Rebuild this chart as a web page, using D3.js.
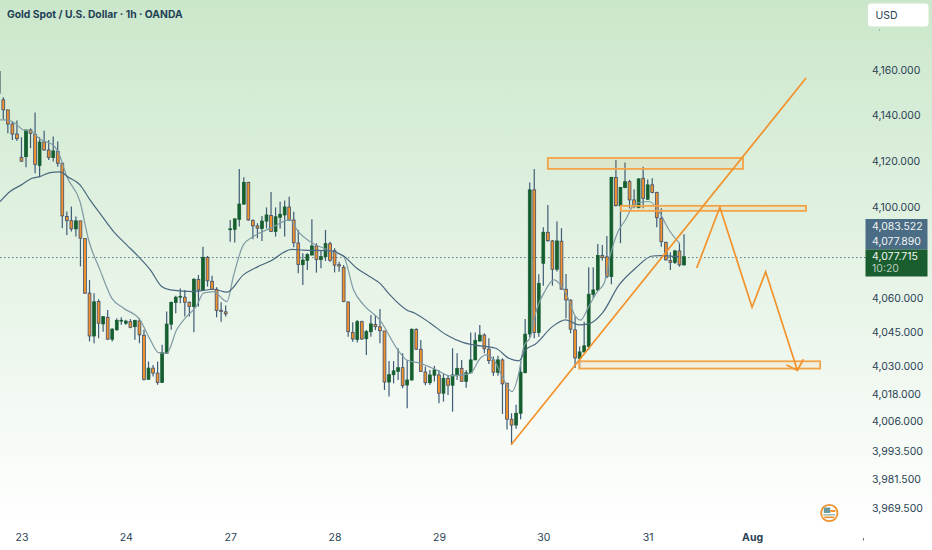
<!DOCTYPE html>
<html>
<head>
<meta charset="utf-8">
<script src="https://d3js.org/d3.v7.min.js"></script>
<style>
  html, body { margin: 0; padding: 0; background: #fff; }
  svg { display: block; }
  text { font-family: Inter, sans-serif; }
</style>
</head>
<body>
<div id="chart"></div>
<script>
var open = [
  4159.3,4146.9,4142.5,4136.3,4131.9,4121.7,4122.0,4133.7,4131.8,4118.1,
  4128.4,4124.9,4121.6,4124.3,4119.1,4095.7,4093.9,4090.3,4093.8,4086.0,
  4062.1,4043.3,4058.4,4048.6,4051.5,4041.9,4046.0,4049.9,4048.9,4049.6,
  4047.4,4049.9,4043.6,4024.3,4029.2,4027.0,4022.9,4035.7,4048.5,4058.0,
  4060.4,4060.3,4058.1,4056.2,4068.1,4063.5,4077.8,4067.3,4063.8,4054.6,
  4053.9,4090.0,4090.1,4094.5,4101.2,4110.7,4093.9,4091.6,4090.5,4093.7,
  4096.2,4089.2,4095.4,4096.4,4099.9,4094.2,4084.1,4074.6,4076.5,4078.8,
  4082.8,4076.9,4078.1,4083.8,4080.7,4074.6,4073.4,4058.2,4044.9,4041.8,
  4049.6,4042.1,4045.2,4048.4,4047.3,4045.5,4023.1,4026.3,4027.8,4029.4,
  4021.8,4024.0,4046.2,4037.5,4027.5,4022.8,4026.1,4026.2,4018.2,4024.7,
  4021.7,4025.9,4029.1,4023.4,4027.2,4032.8,4041.1,4043.7,4037.5,4032.8,
  4027.4,4032.8,4022.6,4006.8,4004.3,4009.4,4027.2,4044.2,4107.4,4044.8,
  4075.2,4088.8,4085.0,4072.6,4084.9,4063.8,4059.0,4046.0,4033.4,4036.3,
  4038.7,4061.6,4063.5,4078.6,4078.0,4069.4,4112.8,4100.4,4108.4,4111.0,
  4103.0,4099.6,4112.5,4103.3,4109.6,4106.3,4094.9,4084.4,4076.4,4075.6,
  4080.6,4074.5];
var close = [
  4149.8,4142.5,4136.3,4131.9,4129.9,4120.0,4133.7,4132.2,4118.6,4128.4,
  4124.9,4121.6,4124.5,4119.1,4096.0,4093.9,4090.3,4093.8,4086.2,4062.1,
  4043.3,4058.3,4048.9,4051.8,4041.9,4046.3,4050.1,4050.2,4049.8,4047.1,
  4050.1,4043.8,4024.3,4029.2,4027.0,4022.9,4036.0,4048.5,4058.0,4060.3,
  4060.7,4058.1,4056.2,4068.2,4063.5,4077.8,4067.5,4063.8,4054.5,4054.0,
  4053.0,4090.3,4094.7,4101.2,4110.7,4094.2,4091.6,4090.6,4093.7,4096.4,
  4089.2,4095.6,4096.7,4099.9,4094.2,4084.2,4074.7,4076.6,4079.0,4082.8,
  4076.9,4078.1,4083.8,4076.5,4074.4,4074.0,4058.4,4045.2,4042.0,4049.6,
  4042.0,4045.2,4048.6,4047.4,4045.6,4023.1,4026.3,4028.0,4029.4,4021.5,
  4024.0,4046.2,4037.5,4027.8,4022.8,4026.2,4028.4,4018.2,4024.7,4021.7,
  4026.2,4029.1,4023.4,4027.2,4032.8,4041.3,4043.7,4037.7,4032.5,4027.4,
  4032.8,4022.3,4006.8,4004.3,4009.4,4027.4,4044.1,4107.4,4044.8,4066.4,
  4088.8,4085.1,4072.6,4085.0,4063.9,4059.1,4046.3,4033.7,4036.3,4039.0,
  4061.6,4063.5,4078.6,4077.8,4069.4,4112.8,4100.5,4108.5,4111.0,4103.0,
  4100.1,4112.2,4103.7,4109.6,4106.3,4095.2,4084.7,4076.7,4075.6,4080.6,
  4074.5,4078.1];
var high = [
  4159.3,4148.0,4142.5,4137.4,4137.8,4130.5,4133.7,4134.4,4141.4,4130.5,
  4133.4,4129.3,4130.8,4128.6,4119.1,4097.9,4100.1,4095.7,4093.8,4086.0,
  4067.9,4062.1,4059.4,4051.8,4054.7,4046.7,4051.1,4051.5,4050.4,4050.7,
  4050.4,4051.1,4046.0,4032.1,4030.6,4032.1,4039.4,4054.0,4058.4,4060.9,
  4064.1,4063.5,4058.4,4068.6,4070.1,4082.5,4078.4,4069.7,4064.7,4058.1,
  4056.7,4094.2,4094.7,4116.6,4112.9,4111.0,4094.5,4092.8,4095.9,4099.7,
  4106.5,4099.7,4102.2,4102.7,4104.4,4097.8,4089.8,4079.6,4079.6,4094.5,
  4084.0,4081.0,4089.8,4084.7,4081.8,4075.9,4074.4,4058.4,4049.3,4050.3,
  4050.0,4045.9,4052.5,4052.5,4055.1,4045.5,4032.3,4032.3,4037.9,4035.7,
  4032.8,4046.7,4046.7,4041.5,4029.9,4028.4,4030.2,4028.4,4026.9,4026.2,
  4037.9,4035.7,4032.8,4028.4,4044.8,4044.8,4048.1,4044.5,4042.3,4034.3,
  4034.6,4033.5,4022.6,4009.4,4013.1,4032.1,4050.8,4110.6,4116.6,4070.4,
  4091.0,4100.8,4085.4,4093.5,4090.6,4070.5,4059.4,4051.8,4038.7,4049.6,
  4073.5,4073.5,4083.7,4083.2,4087.2,4113.2,4120.5,4108.5,4119.4,4111.8,
  4107.7,4112.5,4117.6,4112.0,4112.5,4106.6,4099.3,4084.7,4080.0,4081.1,
  4084.0,4087.9];
var low = [
  4149.0,4138.4,4132.2,4129.3,4128.9,4119.8,4117.3,4125.7,4114.7,4112.9,
  4124.6,4120.5,4119.8,4117.6,4090.6,4087.6,4089.1,4086.9,4073.8,4061.8,
  4040.9,4040.1,4042.3,4045.2,4041.6,4040.9,4045.7,4048.2,4048.2,4046.7,
  4041.6,4040.1,4023.8,4024.0,4025.5,4021.9,4022.9,4035.5,4046.0,4053.3,
  4057.7,4051.8,4051.8,4044.9,4056.2,4063.2,4065.0,4063.5,4051.5,4049.6,
  4051.8,4084.6,4084.3,4091.3,4100.8,4093.9,4085.7,4086.2,4085.0,4090.5,
  4088.9,4086.9,4090.5,4086.9,4093.9,4082.2,4070.8,4065.7,4072.3,4078.7,
  4071.1,4073.0,4076.2,4075.9,4071.2,4071.5,4058.1,4043.0,4040.8,4040.4,
  4041.5,4035.0,4043.0,4045.9,4040.1,4019.6,4016.7,4022.5,4024.0,4020.4,
  4011.6,4023.7,4037.2,4027.5,4021.7,4021.8,4023.3,4013.8,4014.5,4017.4,
  4010.1,4024.0,4023.3,4020.6,4026.9,4032.8,4040.8,4035.7,4031.0,4025.8,
  4025.8,4009.1,4002.4,3996.0,4002.8,4006.8,4026.9,4042.8,4042.3,4043.0,
  4065.3,4084.7,4065.3,4071.6,4063.5,4051.1,4044.5,4029.2,4029.2,4036.2,
  4037.2,4059.9,4063.2,4076.4,4068.6,4066.0,4100.1,4084.0,4108.1,4099.3,
  4099.3,4099.3,4099.3,4103.0,4105.9,4091.0,4082.5,4076.4,4072.3,4074.9,
  4073.7,4074.2];

var fastBars = [0.3,1.7,3.6,5.4,7.3,9.1,12,13.5,15,17.9,19.8,22.3,24.9,27.5,31.1,33.4,35.2,37,39.2,41.4,43.6,45.1,47.3,50.3,51.7,53.9,56.1,59.8,64.2,66,68.6,73,76,78.2,80.4,84,87.7,89.9,92.9,96.5,99.5,103.9,106.1,107.3,109.1,110.6,113.1,114.6,115.7,117.2,118.3,120.5,122.3,123.8,125.3,127.1,128.2,130,131.9,133.4,134.5,136.3,138.1,140.3,143.3,145.5,147.7,150];
var fastPrices = [4138.1,4138.1,4136.6,4133.7,4133.0,4129.6,4127.1,4122.0,4113.2,4102.3,4085.4,4072.3,4059.9,4055.5,4050.4,4041.6,4036.0,4035.7,4046.0,4051.8,4056.5,4062.1,4062.8,4058.4,4069.4,4083.3,4086.9,4090.5,4094.2,4089.1,4084.7,4080.7,4078.1,4063.5,4056.9,4050.3,4037.9,4032.8,4031.3,4028.4,4025.8,4026.9,4033.5,4035.0,4032.8,4026.9,4018.9,4027.0,4038.7,4043.0,4053.3,4063.5,4067.9,4065.7,4060.6,4051.8,4050.3,4056.2,4062.8,4066.4,4076.7,4088.4,4094.2,4101.5,4102.3,4097.9,4089.8,4084.0];
var slowBars = [0.3,2.5,5,7.3,9,11.3,13.5,15.3,17.9,20.1,22.3,25.3,28.2,30.8,33.4,35.9,37.8,42.9,47.3,50.3,53.9,56.8,60.5,62.7,64.5,67.1,73,76,78.9,81.8,84,86.2,89.9,91.8,95.1,98.7,102.4,104.6,109.5,112.4,114.6,116.1,118.3,122,124.9,127.8,130,133,136.7,140.3,144,145.9,149.9];
var slowPrices = [4102.3,4106.7,4109.6,4112.5,4113.2,4115.0,4115.3,4113.0,4109.6,4103.0,4097.1,4089.1,4083.3,4078.1,4072.3,4065.0,4063.5,4062.8,4063.8,4062.5,4070.1,4073.4,4076.9,4079.9,4081.3,4081.0,4080.7,4078.4,4073.0,4069.3,4066.4,4061.3,4054.7,4053.2,4048.9,4043.7,4040.4,4039.4,4037.9,4033.5,4032.4,4037.2,4039.8,4047.4,4050.4,4048.2,4048.6,4053.3,4065.7,4073.0,4078.4,4078.6,4078.1];

// axis ticks
var priceTicks = [4160,4140,4120,4100,4060,4045,4030,4018,4006,3993.5,3981.5,3969.5];
var dayBars = [5,28,51,74,97,120,143,166];
var dayLabels = ["23","24","27","28","29","30","31","Aug"];

// last values shown on the price scale
var lastPrice = 4077.715;
var slowLast = 4083.522;
var fastLast = 4077.890;
var countdown = "10:20";

// hand drawn levels and the projected path, in bar / price
var zoneBars = [[121,164],[137.1,177.9],[127.9,181]];
var zonePrices = [[4121.4,4116.6],[4100.4,4098.2],[4032.2,4029.0]];
var trendBars = [112.9,177.9];
var trendPrices = [3996,4156.5];
var pathBars = [153.8,158.9,166,169,176];
var pathPrices = [4073.1,4099.8,4055.9,4071.5,4028.2];
var arrowBars = [173.6,176,177.3];
var arrowPrices = [4030.6,4028.2,4033.1];

var width = 932, height = 550;
var ink = "#2a4254";
var orange = "#f2922c";
var green = "#155e2f";

var svg = d3.select("#chart").append("svg")
  .attr("width", width)
  .attr("height", height);

var grad = svg.append("defs").append("linearGradient")
  .attr("id", "bg")
  .attr("x1", 0).attr("y1", 0).attr("x2", 0).attr("y2", 1);
grad.append("stop").attr("offset", "0%").attr("stop-color", "#cbe7cb");
grad.append("stop").attr("offset", "96%").attr("stop-color", "#ffffff");

svg.append("rect")
  .attr("width", width)
  .attr("height", height)
  .attr("fill", "url(#bg)");

var x = d3.scaleLinear().domain([1, 151]).range([3.3, 684]);
// the price scale is a little stretched at the bottom
var y = d3.scaleLinear().domain([3969.5, 4006, 4160]).range([508, 421, 70]);

// last price line
svg.append("line")
  .attr("x1", 0)
  .attr("x2", 866)
  .attr("y1", y(lastPrice))
  .attr("y2", y(lastPrice))
  .attr("stroke", "#5b7c88")
  .attr("stroke-width", 1)
  .attr("stroke-dasharray", "1.5,2.5");

// candles
var bars = d3.range(open.length);
var candles = svg.append("g");

candles.selectAll("line").data(bars).enter().append("line")
  .attr("x1", function (i) { return x(i); })
  .attr("x2", function (i) { return x(i); })
  .attr("y1", function (i) { return y(high[i]); })
  .attr("y2", function (i) { return y(low[i]); })
  .attr("stroke", "#3f5c76")
  .attr("stroke-width", 1.2);

candles.selectAll("rect").data(bars).enter().append("rect")
  .attr("x", function (i) { return x(i) - 1.4; })
  .attr("width", 2.8)
  .attr("y", function (i) { return y(Math.max(open[i], close[i])); })
  .attr("height", function (i) { return Math.max(0.8, Math.abs(y(open[i]) - y(close[i]))); })
  .attr("fill", function (i) { return close[i] >= open[i] ? green : orange; })
  .attr("stroke", function (i) { return close[i] >= open[i] ? green : "#3d4f6e"; })
  .attr("stroke-width", 0.8);

// moving averages
function drawAverage(barList, priceList, color) {
  var line = d3.line()
    .x(function (d) { return x(d); })
    .y(function (d, i) { return y(priceList[i]); })
    .curve(d3.curveMonotoneX);
  svg.append("path")
    .attr("d", line(barList))
    .attr("fill", "none")
    .attr("stroke", color)
    .attr("stroke-width", 1.2);
}
drawAverage(fastBars, fastPrices, "#7f9aa3");
drawAverage(slowBars, slowPrices, "#4a687f");

// zones
zoneBars.forEach(function (b, k) {
  svg.append("rect")
    .attr("x", x(b[0]))
    .attr("y", y(zonePrices[k][0]))
    .attr("width", x(b[1]) - x(b[0]))
    .attr("height", y(zonePrices[k][1]) - y(zonePrices[k][0]))
    .attr("fill", orange)
    .attr("fill-opacity", 0.08)
    .attr("stroke", "#f4a448")
    .attr("stroke-width", 1.8);
});

function drawPolyline(barList, priceList) {
  var line = d3.line()
    .x(function (d) { return x(d); })
    .y(function (d, i) { return y(priceList[i]); });
  svg.append("path")
    .attr("d", line(barList))
    .attr("fill", "none")
    .attr("stroke", orange)
    .attr("stroke-width", 1.7);
}
drawPolyline(trendBars, trendPrices);
drawPolyline(pathBars, pathPrices);
drawPolyline(arrowBars, arrowPrices);

// price axis
var priceFormat = d3.format(",.3f");
var yAxis = d3.axisRight(y)
  .tickValues(priceTicks)
  .tickSize(0)
  .tickPadding(0)
  .tickFormat(priceFormat);
var yG = svg.append("g")
  .attr("transform", "translate(872,0)")
  .call(yAxis);
yG.select(".domain").remove();
yG.selectAll("text")
  .attr("fill", ink)
  .attr("font-size", 10.5)
  .attr("font-family", "Inter, sans-serif");

// time axis
var xAxis = d3.axisBottom(x)
  .tickValues(dayBars)
  .tickSize(0)
  .tickPadding(0)
  .tickFormat(function (d, i) { return dayLabels[i]; });
var xG = svg.append("g")
  .attr("transform", "translate(0,533.5)")
  .call(xAxis);
xG.select(".domain").remove();
xG.selectAll("text")
  .attr("fill", ink)
  .attr("font-size", 10.5)
  .attr("font-family", "Inter, sans-serif")
  .attr("font-weight", function (d, i) { return dayLabels[i] == "Aug" ? 700 : 400; });

// price labels on the right
svg.append("rect")
  .attr("x", 865.5).attr("y", 219).attr("width", 62).attr("height", 30.5)
  .attr("fill", "#4a6c85");
svg.append("rect")
  .attr("x", 865.5).attr("y", 249.5).attr("width", 62).attr("height", 27)
  .attr("fill", "#1a5e30");

function labelText(txt, py, color) {
  svg.append("text")
    .attr("x", 872)
    .attr("y", py)
    .attr("dy", "0.35em")
    .attr("font-size", 10.5)
    .attr("fill", color)
    .text(txt);
}
labelText(priceFormat(slowLast), 226.5, "#f1f5f4");
labelText(priceFormat(fastLast), 241, "#f1f5f4");
labelText(priceFormat(lastPrice), 256, "#f1f5f4");
labelText(countdown, 268.5, "#b9cdbf");

// currency button
svg.append("rect")
  .attr("x", 868).attr("y", 3.5).attr("width", 60.5).attr("height", 23)
  .attr("rx", 3)
  .attr("fill", "#ffffff");
svg.append("text")
  .attr("x", 875.5)
  .attr("y", 15.5)
  .attr("dy", "0.35em")
  .attr("font-size", 10.5)
  .attr("fill", ink)
  .text("USD");
svg.append("rect").attr("x", 879).attr("y", 29.5).attr("width", 1).attr("height", 1).attr("fill", "#6d8590");

// title
svg.append("text")
  .attr("x", 7)
  .attr("y", 14)
  .attr("dy", "0.35em")
  .attr("font-size", 10.3)
  .attr("font-weight", 700)
  .attr("fill", "#1f4155")
  .attr("font-family", "'Open Sans', sans-serif")
  .text("Gold Spot / U.S. Dollar \u00b7 1h \u00b7 OANDA");

// event badge
var badge = svg.append("g").attr("transform", "translate(829.3,513)");
badge.append("circle").attr("r", 8.2).attr("fill", "#fff").attr("stroke", orange).attr("stroke-width", 1.8);
badge.append("rect").attr("x", -5.5).attr("y", -5.5).attr("width", 6.5).attr("height", 5.5).attr("fill", "#6b9a9c");
badge.append("rect").attr("x", 1).attr("y", -3).attr("width", 5).attr("height", 2).attr("fill", orange);
badge.append("rect").attr("x", -6).attr("y", 1).attr("width", 12).attr("height", 1.6).attr("fill", "#a5bfb8");
badge.append("rect").attr("x", -5).attr("y", 3.5).attr("width", 10).attr("height", 1.6).attr("fill", orange);
svg.append("rect").attr("x", 863).attr("y", 538).attr("width", 1).attr("height", 2.5).attr("fill", "#5f7785");
</script>
</body>
</html>
